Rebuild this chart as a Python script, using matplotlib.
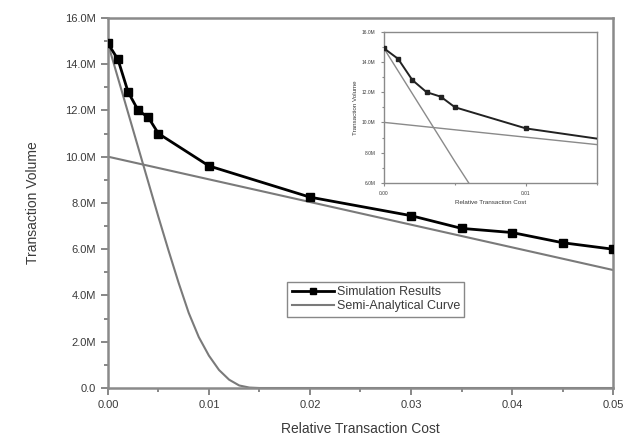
import matplotlib
matplotlib.use('Agg')
import matplotlib.pyplot as plt
from matplotlib.ticker import FuncFormatter, MultipleLocator

plt.rcParams['font.family'] = ['Liberation Sans', 'DejaVu Sans']

# simulation results (volume in millions)
sim_cost = [0.0, 0.001, 0.002, 0.003, 0.004, 0.005, 0.01, 0.02, 0.03,
            0.035, 0.04, 0.045, 0.05]
sim_volume = [14.9, 14.2, 12.8, 12.0, 11.7, 11.0, 9.6, 8.25, 7.45,
              6.9, 6.72, 6.28, 6.0]

# semi-analytical curve, steep branch
steep_cost = [0.0, 0.001, 0.002, 0.003, 0.004, 0.005, 0.006, 0.007, 0.008,
              0.009, 0.010, 0.011, 0.012, 0.013, 0.014, 0.015, 0.02, 0.05]
steep_volume = [14.9, 13.4, 11.9, 10.4, 8.9, 7.4, 5.95, 4.55, 3.25,
                2.2, 1.4, 0.78, 0.36, 0.11, 0.02, 0.0, 0.0, 0.0]

# semi-analytical curve, flat branch
flat_cost = [0.0, 0.05]
flat_volume = [10.0, 5.1]

SPINE = '#8a8a8a'
TXT = '#3a3a3a'


def fmt_m(v, pos):
    if abs(v) < 1e-9:
        return '0.0'
    return '{:.1f}M'.format(v)


def style_axes(ax, lw, tick_len, label_size):
    for s in ax.spines.values():
        s.set_color(SPINE)
        s.set_linewidth(lw)
    ax.tick_params(which='both', direction='out', color=SPINE, width=lw * 0.8,
                   labelcolor=TXT, labelsize=label_size, top=False, right=False)
    ax.tick_params(which='major', length=tick_len)
    ax.tick_params(which='minor', length=tick_len * 0.6)
    ax.yaxis.set_major_formatter(FuncFormatter(fmt_m))
    ax.xaxis.set_major_formatter(FuncFormatter(lambda v, p: '{:.2f}'.format(v)))


fig = plt.figure(figsize=(6.42, 4.46), dpi=100)
ax = fig.add_axes([0.168, 0.130, 0.787, 0.830])

ax.plot(sim_cost, sim_volume, color='black', lw=2.0, marker='s', ms=6,
        label='Simulation Results', zorder=3)
ax.plot(steep_cost, steep_volume, color='#7a7a7a', lw=1.5,
        label='Semi-Analytical Curve', zorder=2)
ax.plot(flat_cost, flat_volume, color='#7a7a7a', lw=1.5, zorder=2)

ax.set_xlim(0, 0.05)
ax.set_ylim(0, 16)
ax.xaxis.set_major_locator(MultipleLocator(0.01))
ax.xaxis.set_minor_locator(MultipleLocator(0.005))
ax.yaxis.set_major_locator(MultipleLocator(2))
ax.yaxis.set_minor_locator(MultipleLocator(1))
style_axes(ax, 1.8, 5, 8)
ax.set_xlabel('Relative Transaction Cost', fontsize=10, color=TXT, labelpad=9)
ax.set_ylabel('Transaction Volume', fontsize=10, color=TXT, labelpad=18)

leg = ax.legend(loc='center', bbox_to_anchor=(0.53, 0.24), fontsize=9,
                frameon=True, fancybox=False, handlelength=3.4,
                borderpad=0.35, labelspacing=0.2, handletextpad=0.2,
                markerscale=0.7)
leg.get_frame().set_edgecolor('#6a6a6a')
leg.get_frame().set_linewidth(1.0)
for t in leg.get_texts():
    t.set_color(TXT)

# inset
ins = fig.add_axes([0.598, 0.590, 0.332, 0.339])
ins.plot(sim_cost, sim_volume, color='#222222', lw=1.4, marker='s', ms=2.2,
         zorder=3)
ins.plot(steep_cost, steep_volume, color='#8a8a8a', lw=1.0, zorder=2)
ins.plot(flat_cost, flat_volume, color='#8a8a8a', lw=1.0, zorder=2)
ins.set_xlim(0, 0.015)
ins.set_ylim(6, 16)
ins.xaxis.set_major_locator(MultipleLocator(0.01))
ins.xaxis.set_minor_locator(MultipleLocator(0.005))
ins.yaxis.set_major_locator(MultipleLocator(2))
ins.yaxis.set_minor_locator(MultipleLocator(1))
style_axes(ins, 1.0, 2.5, 3.5)
ins.set_xlabel('Relative Transaction Cost', fontsize=4.5, color=TXT, labelpad=3)
ins.set_ylabel('Transaction Volume', fontsize=4.5, color=TXT, labelpad=3)

fig.savefig('out.png', dpi=100)
